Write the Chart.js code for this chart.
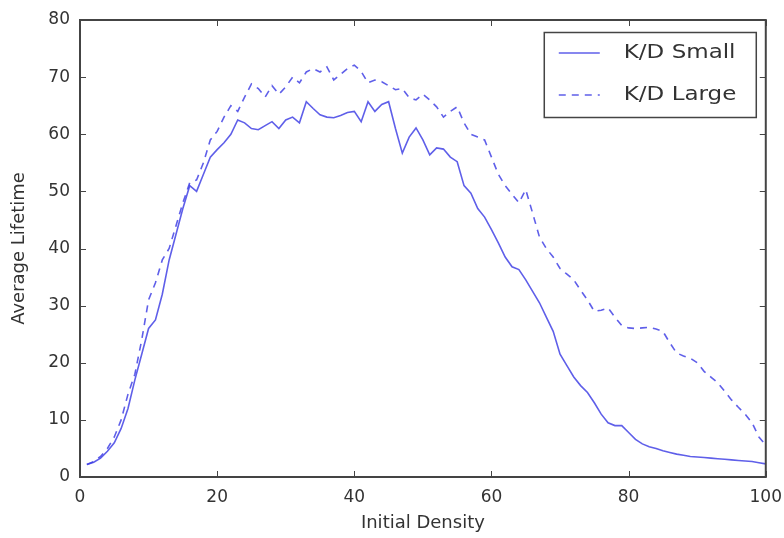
<!DOCTYPE html>
<html>
<head>
<meta charset="utf-8">
<script src="https://cdn.jsdelivr.net/npm/chart.js@4.4.0/dist/chart.umd.min.js"></script>
<style>
  html, body { margin: 0; padding: 0; background: #fff; }
  #wrap { width: 784px; height: 538px; }
</style>
</head>
<body>
<div id="wrap"><canvas id="lifetime"></canvas></div>
<script>
// initial density values (x) and average lifetime for both K/D settings
const density = [
  1, 2, 3, 4, 5, 6, 7, 8, 9, 10, 11, 12, 13, 14, 15, 16, 17, 18, 19, 20,
  21, 22, 23, 24, 25, 26, 27, 28, 29, 30, 31, 32, 33, 34, 35, 36, 37, 38, 39, 40,
  41, 42, 43, 44, 45, 46, 47, 48, 49, 50, 51, 52, 53, 54, 55, 56, 57, 58, 59, 60,
  61, 62, 63, 64, 65, 66, 67, 68, 69, 70, 71, 72, 73, 74, 75, 76, 77, 78, 79, 80,
  81, 82, 83, 84, 85, 86, 87, 88, 89, 90, 91, 92, 93, 94, 95, 96, 97, 98, 99, 100
];

const kdSmall = [
  2.2, 2.6, 3.3, 4.5, 6.0, 8.5, 12, 17, 21.5, 26, 27.5, 32, 38, 42.5, 47, 51, 50, 53, 56, 57.3,
  58.5, 60, 62.5, 62, 61, 60.8, 61.5, 62.2, 61, 62.5, 63, 62, 65.7, 64.5, 63.4, 63, 62.9, 63.3, 63.8, 64,
  62.2, 65.7, 64, 65.2, 65.7, 61, 56.7, 59.5, 61.1, 59, 56.4, 57.6, 57.4, 56, 55.2, 51, 49.7, 47, 45.5, 43.3,
  41, 38.5, 36.8, 36.3, 34.5, 32.5, 30.5, 28, 25.5, 21.5, 19.5, 17.5, 16, 14.8, 13, 11, 9.5, 9, 9, 7.8,
  6.6, 5.8, 5.3, 5, 4.6, 4.3, 4.0, 3.8, 3.6, 3.5, 3.4, 3.3, 3.2, 3.1, 3.0, 2.9, 2.8, 2.7, 2.5, 2.3
];

const kdLarge = [
  2.2, 2.7, 3.6, 5, 7, 10, 14.5, 18, 24, 31, 34, 38, 40, 44, 48, 51.5, 52, 55, 59, 60.5,
  63, 65, 64, 66.5, 68.8, 68, 66.5, 68.5, 67, 68.3, 70, 69, 70.9, 71.5, 70.9, 71.8, 69.5, 70.5, 71.5, 72.1,
  71, 69, 69.5, 69.2, 68.5, 67.8, 68, 66.4, 66, 67, 66, 64.8, 63, 64, 64.8, 62, 60, 59.5, 59, 56,
  53, 51, 49.5, 48, 50.3, 46.2, 42, 40, 38.5, 36.5, 35.5, 34.5, 32.7, 31, 29, 29.2, 29.6, 28, 26.5, 26.1,
  26, 26.1, 26.2, 25.9, 25.5, 23.5, 21.7, 21.2, 20.8, 20, 18.5, 17.5, 16.5, 15, 13.5, 12.2, 11, 9.5, 7, 5.6
];

const seriesNames = ['K/D Small', 'K/D Large'];

const lineColor = 'rgba(60, 60, 228, 0.82)';
const textColor = '#333';
const fontFamily = '"DejaVu Sans", Verdana, sans-serif';

function toPoints(ys) {
  return density.map((d, i) => ({ x: d, y: ys[i] }));
}

// closed frame with inward ticks on all four sides, like a classic matplotlib axes
const frameTicks = {
  id: 'frameTicks',
  afterDatasetsDraw(chart) {
    const { ctx, chartArea: a, scales } = chart;
    const len = 6;
    ctx.save();
    ctx.strokeStyle = '#444';
    ctx.lineWidth = 1;
    scales.x.ticks.forEach(t => {
      const px = Math.round(scales.x.getPixelForValue(t.value)) + 0.5;
      ctx.beginPath();
      ctx.moveTo(px, a.bottom); ctx.lineTo(px, a.bottom - len);
      ctx.moveTo(px, a.top); ctx.lineTo(px, a.top + len);
      ctx.stroke();
    });
    scales.y.ticks.forEach(t => {
      const py = Math.round(scales.y.getPixelForValue(t.value)) + 0.5;
      ctx.beginPath();
      ctx.moveTo(a.left, py); ctx.lineTo(a.left + len, py);
      ctx.moveTo(a.right, py); ctx.lineTo(a.right - len, py);
      ctx.stroke();
    });
    ctx.lineWidth = 2;
    ctx.strokeRect(a.left, a.top, a.right - a.left, a.bottom - a.top);
    ctx.restore();
  }
};

// boxed legend in the upper right corner of the plot
const boxLegend = {
  id: 'boxLegend',
  afterDraw(chart) {
    const { ctx, chartArea: a } = chart;
    const boxW = 212, boxH = 85;
    const bx = a.right - 10 - boxW, by = a.top + 12;
    ctx.save();
    ctx.fillStyle = '#fff';
    ctx.fillRect(bx, by, boxW, boxH);
    ctx.strokeStyle = '#444';
    ctx.lineWidth = 1.5;
    ctx.strokeRect(bx + 0.5, by + 0.5, boxW, boxH);
    ctx.font = '20px ' + fontFamily;
    ctx.textBaseline = 'middle';
    chart.data.datasets.forEach((ds, i) => {
      const y = by + 21 + i * 42;
      ctx.strokeStyle = ds.borderColor;
      ctx.lineWidth = ds.borderWidth;
      ctx.setLineDash(ds.borderDash || []);
      ctx.beginPath();
      ctx.moveTo(bx + 15, y);
      ctx.lineTo(bx + 56, y);
      ctx.stroke();
      ctx.setLineDash([]);
      ctx.fillStyle = textColor;
      ctx.save();
      ctx.translate(bx + 80, y);
      ctx.scale(1.15, 1);
      ctx.fillText(ds.label, 0, 0);
      ctx.restore();
    });
    ctx.restore();
  }
};

new Chart(document.getElementById('lifetime'), {
  type: 'line',
  data: {
    datasets: [
      {
        label: seriesNames[0],
        data: toPoints(kdSmall),
        borderColor: lineColor,
        borderWidth: 1.6,
        pointRadius: 0,
        tension: 0,
        fill: false
      },
      {
        label: seriesNames[1],
        data: toPoints(kdLarge),
        borderColor: lineColor,
        borderWidth: 1.6,
        borderDash: [7, 6],
        pointRadius: 0,
        tension: 0,
        fill: false
      }
    ]
  },
  options: {
    responsive: true,
    maintainAspectRatio: false,
    animation: false,
    layout: { padding: { top: 20, right: 18, left: 0, bottom: 0 } },
    plugins: {
      legend: { display: false },
      tooltip: { enabled: false }
    },
    scales: {
      x: {
        type: 'linear',
        min: 0,
        max: 100,
        ticks: {
          stepSize: 20,
          padding: 2,
          color: textColor,
          font: { family: fontFamily, size: 17 }
        },
        grid: { display: false },
        border: { display: false },
        title: {
          display: true,
          text: 'Initial Density',
          color: textColor,
          padding: { top: 4, bottom: 4 },
          font: { family: fontFamily, size: 18 }
        },
        afterFit(scale) { scale.height = 61; }
      },
      y: {
        min: 0,
        max: 80,
        ticks: {
          stepSize: 10,
          padding: 2,
          color: textColor,
          font: { family: fontFamily, size: 17 }
        },
        grid: { display: false },
        border: { display: false },
        title: {
          display: true,
          text: 'Average Lifetime',
          color: textColor,
          padding: { top: 9, bottom: 9 },
          font: { family: fontFamily, size: 18 }
        },
        afterFit(scale) { scale.width = 80; }
      }
    }
  },
  plugins: [frameTicks, boxLegend]
});
</script>
</body>
</html>
